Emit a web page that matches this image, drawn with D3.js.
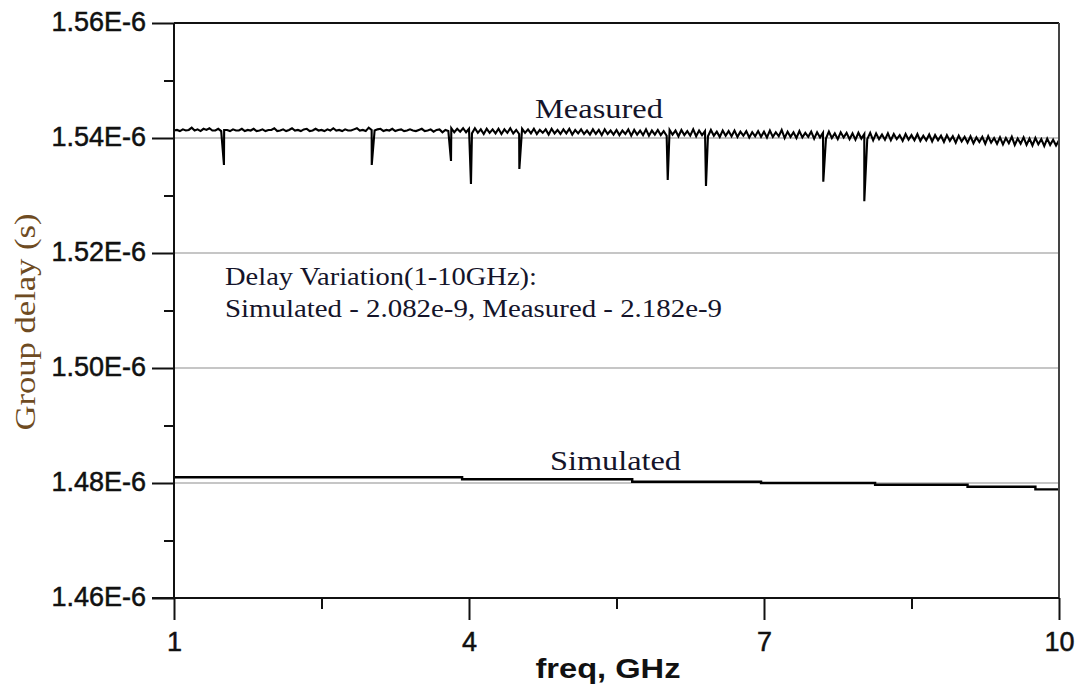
<!DOCTYPE html>
<html><head><meta charset="utf-8">
<script src="https://cdn.jsdelivr.net/npm/d3@7"></script>
<style>body{margin:0;background:#fff} svg{display:block}</style>
</head><body>
<svg id="c" width="1083" height="687"></svg>
<script>
// ---------- data ----------
const xTicks = [1, 4, 7, 10];
const xMinorTicks = [2.5, 5.5, 8.5];
const yTicksNs = [1460, 1480, 1500, 1520, 1540, 1560];
const yTickLabels = ["1.46E-6", "1.48E-6", "1.50E-6", "1.52E-6", "1.54E-6", "1.56E-6"];
const yMinorNs = [1470, 1490, 1510, 1530, 1550];
const gridNs = [1480, 1500, 1520, 1540];

// simulated group delay (ns), stepwise
const simFreq = [1, 3.93, 5.66, 6.97, 8.13, 9.07, 9.76, 10];
const simNs   = [1480.99, 1480.64, 1480.23, 1480.00, 1479.70, 1479.36, 1478.90, 1478.90];

// measured group delay (ns), sampled every 0.03 GHz from 1 GHz
const measStartGHz = 1, measStepGHz = 0.03;
const measuredNs = [
1541.3,1541.4,1541.2,1541.5,1541.3,1541.4,1541.8,1541.3,1541.5,1541.2,
1541.6,1541.4,1541.7,1541.3,1541.3,1541.6,1541.2,1541.4,1541.4,1541.2,
1541.5,1541.3,1541.3,1541.6,1541.2,1541.4,1541.3,1541.6,1541.2,1541.3,
1541.5,1541.2,1541.4,1541.4,1541.7,1541.2,1541.3,1541.5,1541.2,1541.4,
1541.7,1541.3,1541.4,1541.2,1541.5,1541.6,1541.2,1541.3,1541.6,1541.3,
1541.4,1541.2,1541.5,1541.3,1541.7,1541.3,1541.4,1541.2,1541.5,1541.3,
1541.3,1541.5,1541.7,1541.3,1541.4,1541.2,1541.8,1541.4,1541.3,1541.5,
1541.6,1541.2,1541.4,1541.3,1541.6,1541.2,1541.4,1541.5,1541.2,1541.3,
1541.5,1541.3,1541.2,1541.4,1541.6,1541.2,1541.3,1541.5,1541.1,1541.4,
1541.5,1541.0,1541.4,1541.2,1541.7,1541.0,1541.6,1541.1,1541.7,1541.0,
1541.6,1540.8,1541.7,1540.9,1541.5,1540.7,1541.6,1540.9,1541.5,1540.8,
1541.6,1540.7,1541.5,1540.9,1541.7,1540.8,1541.4,1540.7,1541.6,1540.9,
1541.5,1540.8,1541.6,1540.7,1541.4,1540.9,1541.5,1540.6,1541.6,1540.8,
1541.4,1540.7,1541.5,1540.8,1541.6,1540.6,1541.4,1540.8,1541.5,1540.7,
1541.3,1540.6,1541.5,1540.7,1541.4,1540.5,1541.5,1540.7,1541.3,1540.6,
1541.4,1540.5,1541.3,1540.7,1541.5,1540.4,1541.4,1540.6,1541.3,1540.5,
1541.5,1540.4,1541.3,1540.6,1541.4,1540.5,1541.2,1540.4,1541.4,1540.6,
1541.3,1540.3,1541.4,1540.5,1541.2,1540.4,1541.5,1540.3,1541.3,1540.5,
1541.2,1540.3,1541.4,1540.4,1541.1,1540.2,1541.3,1540.4,1541.2,1540.3,
1541.3,1540.2,1541.1,1540.4,1541.2,1540.1,1541.0,1540.3,1541.2,1540.2,
1541.1,1540.1,1541.3,1540.2,1541.0,1540.3,1541.4,1540.0,1541.1,1540.2,
1541.0,1540.0,1541.2,1540.1,1540.9,1540.2,1541.1,1539.9,1541.0,1540.1,
1540.9,1539.9,1541.1,1540.0,1540.8,1539.8,1541.0,1540.1,1540.9,1539.8,
1540.8,1539.7,1540.9,1539.9,1540.7,1539.8,1540.9,1539.6,1540.8,1539.8,
1540.6,1539.7,1540.8,1539.6,1540.7,1539.8,1540.5,1539.5,1540.7,1539.7,
1540.5,1539.6,1540.7,1539.5,1540.4,1539.6,1540.6,1539.4,1540.5,1539.6,
1540.4,1539.3,1540.5,1539.5,1540.3,1539.2,1540.4,1539.4,1540.2,1539.2,
1540.3,1539.1,1540.1,1539.3,1540.2,1539.0,1540.3,1539.2,1540.0,1539.0,
1540.1,1538.9,1540.0,1539.1,1540.2,1538.8,1539.9,1539.0,1540.1,1538.8,
1539.9,1538.7,1540.0,1538.9,1539.8,1538.6,1539.9,1538.8,1539.7,1538.7,
1539.6
];
// narrow downward dips in the measured trace
const spikeFreq = [1.508, 3.011, 3.817, 4.020, 4.512, 6.021, 6.410, 7.603, 8.020];
const spikeNs   = [1535.3, 1535.3, 1536.0, 1532.0, 1534.6, 1532.7, 1531.65, 1532.4, 1529.0];

// ---------- chart ----------
const svg = d3.select("#c");
const X0 = 174, X1 = 1059, Y0 = 598, Y1 = 23;
const x = d3.scaleLinear().domain([1, 10]).range([X0, X1]);
const y = d3.scaleLinear().domain([1460, 1560]).range([Y0, Y1]);

// gridlines
svg.append("g").selectAll("line").data(gridNs).join("line")
  .attr("x1", X0).attr("x2", X1)
  .attr("y1", d => y(d)).attr("y2", d => y(d))
  .attr("stroke", "#c6c6c6").attr("stroke-width", 2);

// measured series with spikes merged in
const meas = measuredNs.map((v, i) => ({f: measStartGHz + i * measStepGHz, v}));
spikeFreq.forEach((f, i) => meas.push({f, v: spikeNs[i]}));
meas.sort((a, b) => a.f - b.f);

const line = d3.line().x(d => x(d.f)).y(d => y(d.v));
svg.append("path").datum(meas)
  .attr("d", line).attr("fill", "none")
  .attr("stroke", "#000").attr("stroke-width", 2.1).attr("stroke-linejoin", "miter");

const sim = simFreq.map((f, i) => ({f, v: simNs[i]}));
svg.append("path").datum(sim)
  .attr("d", d3.line().x(d => x(d.f)).y(d => y(d.v)).curve(d3.curveStepAfter))
  .attr("fill", "none").attr("stroke", "#000").attr("stroke-width", 2.4);

// frame
svg.append("line").attr("x1", X0).attr("x2", X1).attr("y1", Y1).attr("y2", Y1)
  .attr("stroke", "#111").attr("stroke-width", 2);
svg.append("line").attr("x1", X1).attr("x2", X1).attr("y1", Y1).attr("y2", Y0)
  .attr("stroke", "#444").attr("stroke-width", 2);

const sans = "'Liberation Sans', Arial, sans-serif";
// y axis
const yAxis = d3.axisLeft(y).tickValues(yTicksNs).tickSize(22).tickSizeOuter(0)
  .tickPadding(6).tickFormat((d, i) => yTickLabels[i]);
const gy = svg.append("g").attr("transform", `translate(${X0},0)`).call(yAxis);
gy.select(".domain").attr("stroke", "#111").attr("stroke-width", 2).attr("d", `M0,${Y1}V${Y0}`);
gy.selectAll(".tick line").attr("stroke", "#111").attr("stroke-width", 2);
gy.selectAll(".tick text").attr("font-family", sans)
  .attr("font-size", 27).attr("fill", "#111").attr("stroke", "#111").attr("stroke-width", 0.5)
  .attr("dy", "0.27em");
const yMinor = d3.axisLeft(y).tickValues(yMinorNs).tickSize(10).tickFormat("");
const gym = svg.append("g").attr("transform", `translate(${X0},0)`).call(yMinor);
gym.select(".domain").remove();
gym.selectAll(".tick line").attr("stroke", "#111").attr("stroke-width", 2);

// x axis
const xAxis = d3.axisBottom(x).tickValues(xTicks).tickSize(22).tickSizeOuter(0)
  .tickPadding(12).tickFormat(d3.format("d"));
const gx = svg.append("g").attr("transform", `translate(0,${Y0})`).call(xAxis);
gx.select(".domain").attr("stroke", "#111").attr("stroke-width", 2).attr("d", `M${X0 - 22},0H${X1}`);
gx.selectAll(".tick line").attr("stroke", "#111").attr("stroke-width", 2);
gx.selectAll(".tick text").attr("font-family", sans)
  .attr("font-size", 27).attr("fill", "#111").attr("stroke", "#111").attr("stroke-width", 0.5)
  .attr("dy", "0.71em");
const xMinor = d3.axisBottom(x).tickValues(xMinorTicks).tickSize(11).tickFormat("");
const gxm = svg.append("g").attr("transform", `translate(0,${Y0})`).call(xMinor);
gxm.select(".domain").remove();
gxm.selectAll(".tick line").attr("stroke", "#111").attr("stroke-width", 2);

// axis titles
svg.append("text").text("freq, GHz")
  .attr("x", 608).attr("y", 678).attr("text-anchor", "middle")
  .attr("font-family", sans).attr("font-weight", "bold")
  .attr("font-size", 28).attr("fill", "#111")
  .attr("textLength", 145).attr("lengthAdjust", "spacingAndGlyphs");
svg.append("text").text("Group delay (s)")
  .attr("transform", "translate(35,322) rotate(-90)").attr("text-anchor", "middle")
  .attr("font-family", "'Liberation Serif', 'Times New Roman', serif")
  .attr("font-size", 30).attr("fill", "#6e4b22")
  .attr("textLength", 217).attr("lengthAdjust", "spacingAndGlyphs");

// annotations
const serif = "'Liberation Serif', 'Times New Roman', serif";
function note(t, px, py, fs, len) {
  svg.append("text").text(t).attr("x", px).attr("y", py)
    .attr("font-family", serif).attr("font-size", fs).attr("fill", "#14142a")
    .attr("textLength", len).attr("lengthAdjust", "spacingAndGlyphs");
}
note("Measured", 535, 118, 27, 128);
note("Simulated", 550, 470, 27, 131);
note("Delay Variation(1-10GHz):", 225, 285, 26, 312);
note("Simulated - 2.082e-9, Measured - 2.182e-9", 225, 317, 26, 497);
</script>
</body></html>
